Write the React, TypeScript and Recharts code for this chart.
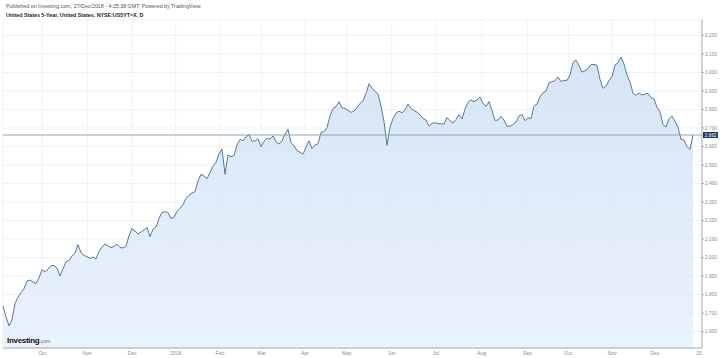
import { ComposedChart, Area, XAxis, YAxis, CartesianGrid, ReferenceLine } from 'recharts';

// US 5-year yield, one point per ~1.5 trading days, Sep 2017 – 27 Dec 2018
const yieldValues = [
  1.739, 1.681, 1.631, 1.663, 1.753, 1.786, 1.811, 1.832, 1.874, 1.879,
  1.868, 1.861, 1.890, 1.935, 1.924, 1.937, 1.957, 1.957, 1.944, 1.901,
  1.939, 1.978, 1.985, 2.009, 2.025, 2.070, 2.027, 2.012, 2.005, 1.996,
  2.003, 1.993, 2.032, 2.057, 2.073, 2.064, 2.054, 2.061, 2.073, 2.055,
  2.052, 2.063, 2.117, 2.158, 2.144, 2.127, 2.138, 2.149, 2.163, 2.113,
  2.153, 2.165, 2.212, 2.244, 2.248, 2.243, 2.212, 2.217, 2.250, 2.266,
  2.286, 2.320, 2.336, 2.349, 2.356, 2.414, 2.450, 2.441, 2.426, 2.459,
  2.493, 2.515, 2.560, 2.587, 2.450, 2.554, 2.545, 2.552, 2.608, 2.639,
  2.631, 2.653, 2.666, 2.628, 2.630, 2.642, 2.599, 2.628, 2.644, 2.640,
  2.657, 2.626, 2.613, 2.631, 2.666, 2.694, 2.621, 2.604, 2.578, 2.569,
  2.558, 2.597, 2.631, 2.588, 2.608, 2.615, 2.676, 2.680, 2.702, 2.765,
  2.806, 2.815, 2.842, 2.808, 2.806, 2.795, 2.784, 2.792,
  2.809, 2.833, 2.846, 2.887, 2.939, 2.914, 2.898, 2.883, 2.817, 2.734,
  2.606, 2.705, 2.750, 2.781, 2.791, 2.782, 2.797, 2.829, 2.806, 2.793,
  2.786, 2.770, 2.752, 2.743, 2.710, 2.725, 2.728, 2.723, 2.723, 2.721,
  2.757, 2.739, 2.727, 2.746, 2.773, 2.748, 2.802, 2.838, 2.852, 2.842,
  2.851, 2.867, 2.833, 2.817, 2.842, 2.795, 2.741, 2.743, 2.763, 2.743,
  2.710, 2.710, 2.719, 2.732, 2.765, 2.773, 2.739, 2.756,
  2.750, 2.817, 2.829, 2.869, 2.890, 2.899, 2.944, 2.950, 2.955, 2.975,
  2.951, 2.957, 2.957, 2.986, 3.054, 3.067, 3.036, 3.002, 3.009, 3.020,
  3.043, 3.043, 3.038, 2.962, 2.914, 2.925, 2.957, 2.977, 3.040, 3.052,
  3.083, 3.045, 2.986, 2.950, 2.887, 2.876, 2.889, 2.878, 2.883, 2.887,
  2.864, 2.858, 2.812, 2.788, 2.718, 2.705, 2.750, 2.765, 2.734, 2.705,
  2.639, 2.635, 2.599, 2.585, 2.662,
];

// x positions (point index) where the month labels sit
const monthTickIdx = [13.1, 28.1, 43.1, 57.6, 72.3, 86.2, 100.7, 114.6, 129.6, 144.3, 159.6, 174.8, 188.4, 203.1, 217.3, 232];
const monthTickLabels = ['Oct', 'Nov', 'Dec', '2018', 'Feb', 'Mar', 'Apr', 'May', 'Jun', 'Jul', 'Aug', 'Sep', 'Oct', 'Nov', 'Dec', '20'];

const yTicks = [1.6, 1.7, 1.8, 1.9, 2.0, 2.1, 2.2, 2.3, 2.4, 2.5, 2.6, 2.7, 2.8, 2.9, 3.0, 3.1, 3.2];

const titleLine = 'Published on Investing.com, 27/Dec/2018 - 4:25:38 GMT, Powered by TradingView.';
const symbolLine = 'United States 5-Year, United States, NYSE:US5YT=X, D';

const data = yieldValues.map((v, i) => ({ i, v }));
const lastValue = yieldValues[yieldValues.length - 1];

const FONT = '"Liberation Sans", Arial, sans-serif';

function LastValueTag(props: any) {
  const { viewBox } = props;
  if (!viewBox) return null;
  const x = viewBox.x + viewBox.width + 1;
  const y = viewBox.y;
  return (
    <g>
      <rect x={x} y={y - 3} width={15} height={6} fill="#1d3a5e" />
      <text x={x + 7.5} y={y + 1.8} textAnchor="middle" fontSize={4.8} fill="#ffffff" fontFamily={FONT}>
        {lastValue.toFixed(3)}
      </text>
    </g>
  );
}

export default function App() {
  return (
    <div style={{ position: 'absolute', left: 0, top: 0, width: 720, height: 358, background: '#fff' }}>
      <ComposedChart width={720} height={358} data={data} margin={{ top: 20, right: 0, left: 3, bottom: 0 }}>
        <defs>
          <linearGradient id="fillBlue" x1="0" y1="0" x2="0" y2="1">
            <stop offset="0%" stopColor="#cfe0f2" stopOpacity={0.85} />
            <stop offset="100%" stopColor="#e6f1fd" stopOpacity={0.85} />
          </linearGradient>
        </defs>
        <CartesianGrid stroke="#eef1f5" strokeWidth={1} />
        <XAxis
          type="number"
          dataKey="i"
          domain={[0, 233]}
          ticks={monthTickIdx}
          interval={0}
          tickFormatter={(t: number) => monthTickLabels[monthTickIdx.indexOf(t)] ?? ''}
          height={10}
          tickSize={2}
          tickMargin={1.5}
          tickLine={false}
          axisLine={{ stroke: '#a9a9a9' }}
          tick={{ fontSize: 5, fill: '#8a8a8a', fontFamily: FONT }}
        />
        <YAxis
          orientation="right"
          type="number"
          domain={[1.512, 3.283]}
          ticks={yTicks}
          interval={0}
          width={18}
          tickSize={2}
          tickMargin={1}
          tickFormatter={(t: number) => t.toFixed(3)}
          axisLine={{ stroke: '#a9a9a9' }}
          tickLine={{ stroke: '#a9a9a9' }}
          tick={{ fontSize: 4.8, fill: '#8a8a8a', fontFamily: FONT, textAnchor: 'start' }}
        />
        <Area
          type="linear"
          dataKey="v"
          stroke="#55779f"
          strokeWidth={1}
          fill="url(#fillBlue)"
          fillOpacity={1}
          dot={false}
          activeDot={false}
          isAnimationActive={false}
        />
        <ReferenceLine y={lastValue} stroke="#8fa3b8" strokeWidth={1} label={<LastValueTag />} />
      </ComposedChart>
      <svg width={720} height={358} style={{ position: 'absolute', left: 0, top: 0, pointerEvents: 'none' }}>
        <text x={6} y={7.5} fontSize={5.3} fill="#555" fontFamily={FONT}>
          {titleLine}
        </text>
        <text x={6} y={17} fontSize={5.3} fontWeight="bold" fill="#222" fontFamily={FONT}>
          {symbolLine}
        </text>
        <text x={7} y={342.5} fontSize={8} fontWeight={900} fill="#111" fontFamily={FONT} letterSpacing={-0.3}>
          Investing
          <tspan fontSize={5} fontWeight={400} fill="#666" letterSpacing={0}>.com</tspan>
        </text>
      </svg>
    </div>
  );
}
